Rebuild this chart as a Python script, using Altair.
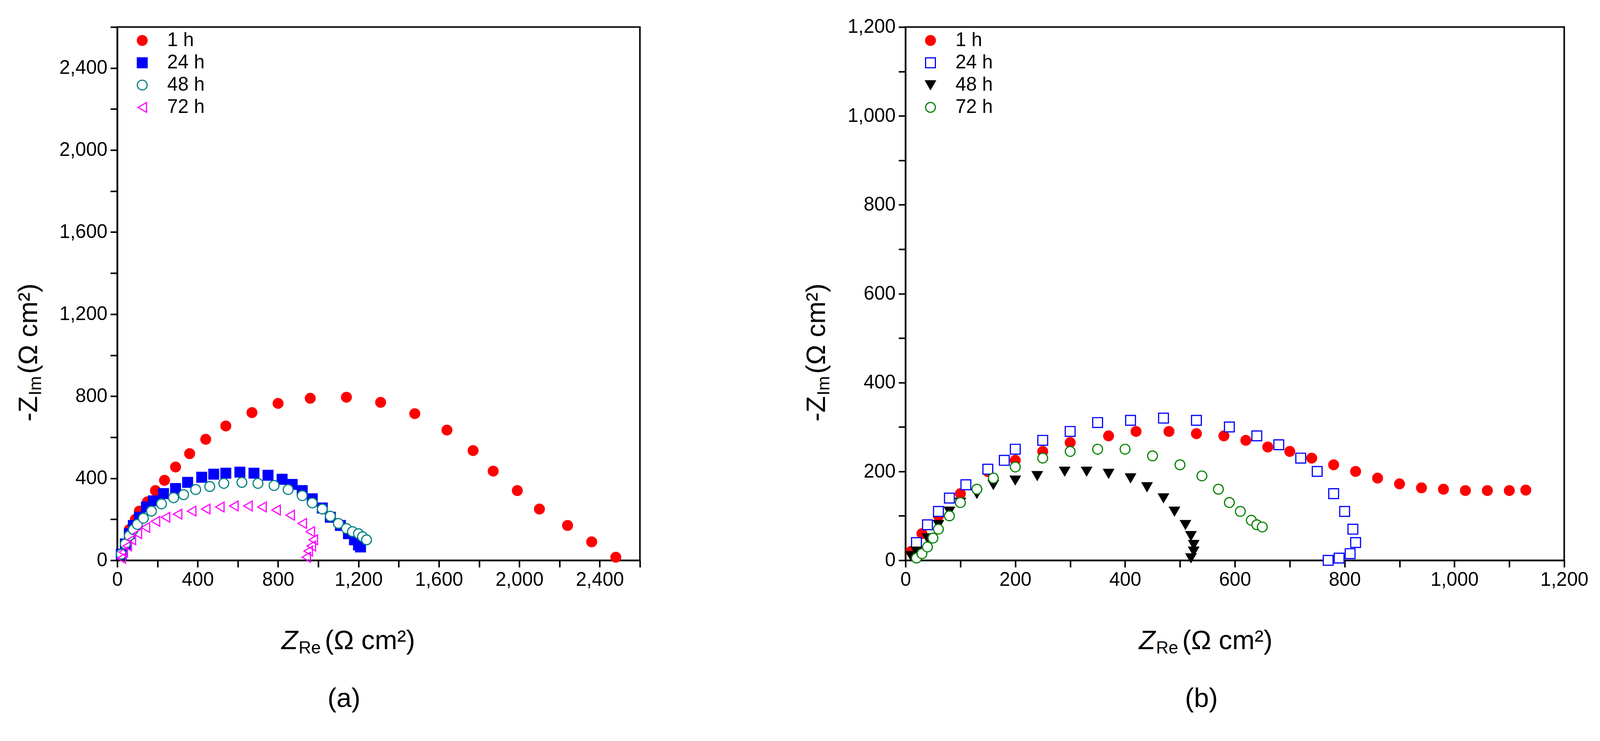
import pandas as pd
import altair as alt

FONT = "Liberation Sans"

# ---- panel (a) data ----
a_1h_x = [60, 90, 110, 150, 190, 235, 290, 360, 440, 540, 670, 800, 960, 1140, 1310, 1480, 1640, 1770, 1870, 1990, 2100, 2240, 2360, 2480]
a_1h_y = [150, 200, 240, 285, 340, 390, 455, 520, 590, 655, 720, 765, 790, 795, 770, 715, 635, 535, 435, 340, 250, 170, 90, 15]
a_24h_x = [20, 40, 60, 80, 110, 145, 180, 230, 290, 350, 420, 480, 540, 610, 680, 750, 820, 870, 920, 970, 1020, 1060, 1110, 1150, 1180, 1200, 1210]
a_24h_y = [30, 80, 130, 170, 210, 260, 290, 325, 350, 380, 405, 420, 425, 430, 425, 415, 395, 370, 340, 300, 255, 210, 170, 130, 100, 75, 65]
a_48h_x = [20, 40, 60, 80, 100, 130, 170, 220, 280, 330, 390, 460, 530, 620, 700, 780, 850, 920, 970, 1020, 1060, 1100, 1140, 1170, 1200, 1220, 1240]
a_48h_y = [30, 80, 120, 150, 175, 205, 240, 275, 305, 320, 345, 360, 375, 380, 375, 365, 345, 315, 280, 250, 215, 180, 155, 140, 130, 115, 100]
a_72h_x = [20, 30, 50, 70, 100, 140, 190, 240, 300, 370, 440, 510, 580, 650, 720, 790, 860, 920, 960, 975, 965, 950, 940]
a_72h_y = [10, 40, 70, 100, 130, 160, 190, 210, 225, 240, 250, 260, 265, 265, 260, 245, 220, 180, 140, 100, 70, 45, 15]

# ---- panel (b) data ----
b_1h_x = [10, 30, 60, 100, 150, 200, 250, 300, 370, 420, 480, 530, 580, 620, 660, 700, 740, 780, 820, 860, 900, 940, 980, 1020, 1060, 1100, 1130]
b_1h_y = [20, 60, 100, 150, 200, 225, 245, 265, 280, 290, 290, 285, 280, 270, 255, 245, 230, 215, 200, 185, 172, 163, 160, 157, 157, 157, 158]
b_24h_x = [20, 40, 60, 80, 110, 150, 180, 200, 250, 300, 350, 410, 470, 530, 590, 640, 680, 720, 750, 780, 800, 815, 820, 810, 790, 770]
b_24h_y = [40, 80, 110, 140, 170, 205, 225, 250, 270, 290, 310, 315, 320, 315, 300, 280, 260, 230, 200, 150, 110, 70, 40, 15, 5, 0]
b_48h_x = [10, 20, 40, 60, 80, 100, 130, 160, 200, 240, 290, 330, 370, 410, 440, 470, 490, 510, 520, 525, 525, 520]
b_48h_y = [10, 20, 50, 80, 110, 130, 150, 170, 180, 190, 200, 200, 195, 185, 165, 140, 110, 80, 55, 35, 20, 5]
b_72h_x = [20, 30, 40, 50, 60, 80, 100, 130, 160, 200, 250, 300, 350, 400, 450, 500, 540, 570, 590, 610, 630, 640, 650]
b_72h_y = [5, 15, 30, 50, 70, 100, 130, 160, 185, 210, 230, 245, 250, 250, 235, 215, 190, 160, 130, 110, 90, 80, 75]

labels = ["1 h", "24 h", "48 h", "72 h"]


def frame(xs, ys):
    rows = []
    for lab, x, y in zip(labels, xs, ys):
        rows += [{"s": lab, "x": a, "y": b} for a, b in zip(x, y)]
    return pd.DataFrame(rows)


def panel(df, dmax, step, w, h, shapes, strokes, fills, caption, xt, yt):
    ticks = list(range(0, dmax + 1, step // 2))
    ax = dict(labelFont=FONT, labelFontSize=50, labelColor="black", domainColor="black",
              domainWidth=4, tickColor="black", tickWidth=4, tickSize=18, labelPadding=8,
              grid=False, title=None, values=ticks, labelFlush=False,
              labelExpr=f"datum.value % {step} == 0 && datum.value <= {dmax - (dmax % step)} ? datum.label : ''")
    sc = alt.Scale(domain=[0, dmax], nice=False, zero=True)
    pts = alt.Chart(df).mark_point(size=650, strokeWidth=3, opacity=1).encode(
        x=alt.X("x:Q", scale=sc, axis=alt.Axis(**ax)),
        y=alt.Y("y:Q", scale=sc, axis=alt.Axis(**ax)),
        shape=alt.Shape("s:N", scale=alt.Scale(domain=labels, range=shapes)),
        stroke=alt.Stroke("s:N", scale=alt.Scale(domain=labels, range=strokes)),
        fill=alt.Fill("s:N", scale=alt.Scale(domain=labels, range=fills),
                      legend=alt.Legend(title=None, orient="none", legendX=40, legendY=10,
                                        labelFont=FONT, labelFontSize=50, symbolSize=650,
                                        symbolStrokeWidth=3, rowPadding=8, labelOffset=40)),
    )
    t = dict(font=FONT, fontSize=70, color="black")
    txt = [
        alt.Chart().mark_text(align="right", fontStyle="italic", **t).encode(
            x=alt.value(xt), y=alt.value(h + 210), text=alt.value("Z")),
        alt.Chart().mark_text(align="left", font=FONT, fontSize=45, color="black").encode(
            x=alt.value(xt + 2), y=alt.value(h + 228), text=alt.value("Re")),
        alt.Chart().mark_text(align="left", **t).encode(
            x=alt.value(xt + 70), y=alt.value(h + 210), text=alt.value("(Ω cm²)")),
        alt.Chart().mark_text(align="right", angle=270, **t).encode(
            x=alt.value(-230), y=alt.value(yt), text=alt.value("-Z")),
        alt.Chart().mark_text(align="left", angle=270, font=FONT, fontSize=45, color="black").encode(
            x=alt.value(-212), y=alt.value(yt - 2), text=alt.value("Im")),
        alt.Chart().mark_text(align="left", angle=270, **t).encode(
            x=alt.value(-230), y=alt.value(yt - 58), text=alt.value("(Ω cm²)")),
        alt.Chart().mark_text(**t).encode(
            x=alt.value(xt + 120), y=alt.value(h + 360), text=alt.value(caption)),
    ]
    return alt.layer(pts, *txt).properties(width=w, height=h)


pa = panel(frame([a_1h_x, a_24h_x, a_48h_x, a_72h_x], [a_1h_y, a_24h_y, a_48h_y, a_72h_y]),
           2600, 400, 1360, 1387,
           ["circle", "square", "circle", "triangle-left"],
           ["red", "blue", "#008080", "magenta"], ["red", "blue", "white", "transparent"],
           "(a)", 470, 960)
pb = panel(frame([b_1h_x, b_24h_x, b_48h_x, b_72h_x], [b_1h_y, b_24h_y, b_48h_y, b_72h_y]),
           1200, 200, 1714, 1387,
           ["circle", "square", "triangle-down", "circle"],
           ["red", "blue", "black", "green"], ["red", "white", "black", "white"],
           "(b)", 650, 960)

chart = alt.hconcat(pa, pb, spacing=420).resolve_scale(
    x="independent", y="independent", shape="independent", stroke="independent", fill="independent"
).configure_view(stroke="black", strokeWidth=4).properties(
    background="white", padding={"left": 30, "top": 20, "right": 20, "bottom": 10})

chart.save("out.html", embed_options={"renderer": "svg", "actions": False})
